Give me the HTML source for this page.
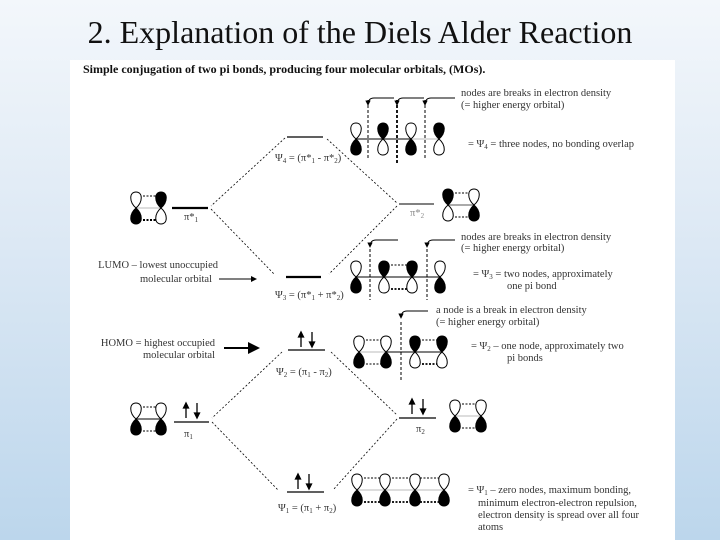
<!DOCTYPE html>
<html><head><meta charset="utf-8"><style>
html,body{margin:0;padding:0}
body{width:720px;height:540px;overflow:hidden;background:linear-gradient(180deg,#f3f7fb 0%,#dfeaf5 40%,#bcd6ec 100%);position:relative;font-family:"Liberation Serif",serif}
.title{position:absolute;left:0;width:720px;top:14px;text-align:center;font-size:32px;color:#111}
.panel{position:absolute;left:70px;top:60px;width:605px;height:480px;background:#fff}
svg{position:absolute;left:0;top:0}
text{font-family:"Liberation Serif",serif;font-size:10.5px;fill:#333}
</style></head><body>
<div class="title">2. Explanation of the Diels Alder Reaction</div>
<div class="panel"></div>
<svg width="720" height="540" viewBox="0 0 720 540">
<defs>
<path id="lobeT" d="M0,0 C-7,-6 -7,-16 0,-16 C7,-16 7,-6 0,0 Z"/>
<path id="lobeB" d="M0,0 C-7,6 -7,16 0,16 C7,16 7,6 0,0 Z"/>
<g id="pA"><use href="#lobeT" fill="#fff" stroke="#000" stroke-width="1"/><use href="#lobeB" fill="#000" stroke="#000" stroke-width="1"/></g>
<g id="pB"><use href="#lobeT" fill="#000" stroke="#000" stroke-width="1"/><use href="#lobeB" fill="#fff" stroke="#000" stroke-width="1"/></g>
<marker id="ah" markerWidth="6" markerHeight="6" refX="5" refY="3" orient="auto"><path d="M0,0 L6,3 L0,6 Z" fill="#000"/></marker>
<g id="ea"><line x1="0" y1="0" x2="0" y2="-13"/><path d="M-2.5,-10 L0,-15 L2.5,-10Z"/><line x1="11" y1="-15" x2="11" y2="-2"/><path d="M8.5,-5 L11,0 L13.5,-5Z"/></g>
</defs>
<text x="83" y="73" style="font-weight:bold;font-size:12px;fill:#111">Simple conjugation of two pi bonds, producing four molecular orbitals, (MOs).</text>

<g stroke="#000" stroke-dasharray="2,2" stroke-width="0.8" fill="none">
<line x1="285" y1="138" x2="211" y2="206"/>
<line x1="211" y1="209" x2="275" y2="275"/>
<line x1="327" y1="139" x2="397" y2="203"/>
<line x1="397" y1="206" x2="329" y2="274"/>
<line x1="282" y1="352" x2="212" y2="418"/>
<line x1="212" y1="422" x2="278" y2="490"/>
<line x1="331" y1="352" x2="397" y2="415"/>
<line x1="397" y1="419" x2="333" y2="490"/>
</g>
<g stroke="#000">
<line x1="287" y1="137" x2="323" y2="137" stroke-width="1.2"/>
<line x1="172" y1="208" x2="208" y2="208" stroke-width="2.2"/>
<line x1="399" y1="204" x2="434" y2="204" stroke-width="1"/>
<line x1="286" y1="277" x2="321" y2="277" stroke-width="2.2"/>
<line x1="288" y1="350" x2="325" y2="350" stroke-width="1.2"/>
<line x1="174" y1="422" x2="209" y2="422" stroke-width="1.2"/>
<line x1="399" y1="418" x2="436" y2="418" stroke-width="1.2"/>
<line x1="287" y1="492" x2="324" y2="492" stroke-width="1.2"/>
</g>
<text x="275" y="161">Ψ<tspan font-size="7" dy="2">4</tspan><tspan dy="-2"> = (π*</tspan><tspan font-size="7" dy="2">1</tspan><tspan dy="-2"> - π*</tspan><tspan font-size="7" dy="2">2</tspan><tspan dy="-2">)</tspan></text>
<text x="184" y="220">π*<tspan font-size="7" dy="2">1</tspan></text>
<text x="410" y="216" style="fill:#888">π*<tspan font-size="7" dy="2">2</tspan></text>
<text x="275" y="298">Ψ<tspan font-size="7" dy="2">3</tspan><tspan dy="-2"> = (π*</tspan><tspan font-size="7" dy="2">1</tspan><tspan dy="-2"> + π*</tspan><tspan font-size="7" dy="2">2</tspan><tspan dy="-2">)</tspan></text>
<text x="276" y="375">Ψ<tspan font-size="7" dy="2">2</tspan><tspan dy="-2"> = (π</tspan><tspan font-size="7" dy="2">1</tspan><tspan dy="-2"> - π</tspan><tspan font-size="7" dy="2">2</tspan><tspan dy="-2">)</tspan></text>
<text x="184" y="437">π<tspan font-size="7" dy="2">1</tspan></text>
<text x="416" y="432">π<tspan font-size="7" dy="2">2</tspan></text>
<text x="278" y="511">Ψ<tspan font-size="7" dy="2">1</tspan><tspan dy="-2"> = (π</tspan><tspan font-size="7" dy="2">1</tspan><tspan dy="-2"> + π</tspan><tspan font-size="7" dy="2">2</tspan><tspan dy="-2">)</tspan></text>

<g stroke="#000" stroke-width="1.3" fill="#000">
<use href="#ea" x="301" y="347"/>
<use href="#ea" x="186" y="418"/>
<use href="#ea" x="412" y="414"/>
<use href="#ea" x="298" y="489"/>
</g>

<text x="218" y="268" text-anchor="end">LUMO – lowest unoccupied</text>
<text x="212" y="282" text-anchor="end">molecular orbital</text>
<line x1="219" y1="279" x2="256" y2="279" stroke="#000" stroke-width="1" marker-end="url(#ah)"/>
<text x="215" y="346" text-anchor="end">HOMO = highest occupied</text>
<text x="215" y="358" text-anchor="end">molecular orbital</text>
<line x1="224" y1="348" x2="258" y2="348" stroke="#000" stroke-width="2" marker-end="url(#ah)"/>

<!-- pi*1 -->
<g stroke="#000" stroke-width="1" stroke-dasharray="2,1.5"><line x1="136" y1="196" x2="161" y2="196"/><line x1="136" y1="220" x2="161" y2="220" stroke-width="2"/></g>
<line x1="136" y1="208" x2="161" y2="208" stroke="#bbb"/>
<use href="#pA" x="136" y="208"/><use href="#pB" x="161" y="208"/>
<!-- pi*2 -->
<g stroke="#000" stroke-width="1" stroke-dasharray="2,1.5"><line x1="448" y1="193" x2="474" y2="193"/><line x1="448" y1="217" x2="474" y2="217"/></g>
<line x1="448" y1="205" x2="474" y2="205" stroke="#555"/>
<use href="#pB" x="448" y="205"/><use href="#pA" x="474" y="205"/>

<!-- Psi4 -->
<line x1="356" y1="139" x2="411" y2="139" stroke="#000"/><line x1="411" y1="139" x2="439" y2="139" stroke="#bbb"/>
<use href="#pA" x="356" y="139"/><use href="#pB" x="383" y="139"/><use href="#pA" x="411" y="139"/><use href="#pB" x="439" y="139"/>
<g stroke="#000" stroke-dasharray="3,2" fill="none"><line x1="368" y1="100" x2="368" y2="160"/><line x1="397" y1="100" x2="397" y2="165" stroke-width="1.8"/><line x1="425" y1="100" x2="425" y2="160"/></g>
<g stroke="#000" fill="none" stroke-width="0.9">
<path d="M394,98 L374,98 Q368,98 368,105" marker-end="url(#ah)"/>
<path d="M424,98 L403,98 Q397,98 397,105" marker-end="url(#ah)"/>
<path d="M455,98 L431,98 Q425,98 425,105" marker-end="url(#ah)"/>
</g>
<text x="461" y="96">nodes are breaks  in electron density</text>
<text x="461" y="108">(= higher energy orbital)</text>
<text x="468" y="147">= Ψ<tspan font-size="7" dy="2">4</tspan><tspan dy="-2"> = three nodes, no bonding overlap</tspan></text>

<!-- Psi3 -->
<line x1="356" y1="277" x2="440" y2="277" stroke="#000"/>
<g stroke="#000" stroke-dasharray="2,1.5"><line x1="384" y1="265" x2="412" y2="265"/><line x1="384" y1="289" x2="412" y2="289" stroke-width="1.8"/></g>
<use href="#pA" x="356" y="277"/><use href="#pB" x="384" y="277"/><use href="#pB" x="412" y="277"/><use href="#pA" x="440" y="277"/>
<g stroke="#000" stroke-dasharray="3,2" fill="none"><line x1="370" y1="244" x2="370" y2="300"/><line x1="427" y1="244" x2="427" y2="300"/></g>
<g stroke="#000" fill="none" stroke-width="0.9">
<path d="M398,240 L376,240 Q370,240 370,247" marker-end="url(#ah)"/>
<path d="M455,240 L433,240 Q427,240 427,247" marker-end="url(#ah)"/>
</g>
<text x="461" y="240">nodes are breaks  in electron density</text>
<text x="461" y="251">(= higher energy orbital)</text>
<text x="473" y="277">= Ψ<tspan font-size="7" dy="2">3</tspan><tspan dy="-2"> = two nodes, approximately</tspan></text>
<text x="507" y="289">one pi bond</text>

<!-- Psi2 -->
<line x1="359" y1="352" x2="386" y2="352" stroke="#bbb"/><line x1="386" y1="352" x2="442" y2="352" stroke="#000"/>
<g stroke="#000" stroke-dasharray="2,1.5"><line x1="359" y1="340" x2="386" y2="340"/><line x1="359" y1="364" x2="386" y2="364"/><line x1="415" y1="340" x2="442" y2="340"/><line x1="415" y1="364" x2="442" y2="364" stroke-width="1.8"/></g>
<use href="#pA" x="359" y="352"/><use href="#pA" x="386" y="352"/><use href="#pB" x="415" y="352"/><use href="#pB" x="442" y="352"/>
<line x1="401" y1="322" x2="401" y2="380" stroke="#000" stroke-dasharray="3,2"/>
<path d="M428,311 L407,311 Q401,311 401,318" stroke="#000" fill="none" stroke-width="0.9" marker-end="url(#ah)"/>
<text x="436" y="313">a node is a break in electron density</text>
<text x="436" y="325">(= higher energy orbital)</text>
<text x="471" y="349">=  Ψ<tspan font-size="7" dy="2">2</tspan><tspan dy="-2"> – one node, approximately two</tspan></text>
<text x="507" y="361">pi bonds</text>

<!-- pi1 -->
<line x1="136" y1="419" x2="161" y2="419" stroke="#000"/>
<g stroke="#000" stroke-dasharray="2,1.5"><line x1="136" y1="407" x2="161" y2="407"/><line x1="136" y1="431" x2="161" y2="431"/></g>
<use href="#pA" x="136" y="419"/><use href="#pA" x="161" y="419"/>
<!-- pi2 -->
<line x1="455" y1="416" x2="481" y2="416" stroke="#bbb"/>
<g stroke="#000" stroke-dasharray="2,1.5"><line x1="455" y1="404" x2="481" y2="404"/><line x1="455" y1="428" x2="481" y2="428"/></g>
<use href="#pA" x="455" y="416"/><use href="#pA" x="481" y="416"/>

<!-- Psi1 -->
<line x1="357" y1="490" x2="444" y2="490" stroke="#bbb"/>
<g stroke="#000" stroke-dasharray="2,1.5"><line x1="357" y1="478" x2="444" y2="478"/><line x1="357" y1="502" x2="444" y2="502" stroke-width="1.8"/></g>
<use href="#pA" x="357" y="490"/><use href="#pA" x="385" y="490"/><use href="#pA" x="415" y="490"/><use href="#pA" x="444" y="490"/>
<text x="468" y="493">=  Ψ<tspan font-size="7" dy="2">1</tspan><tspan dy="-2"> – zero nodes, maximum bonding,</tspan></text>
<text x="478" y="506">minimum electron-electron repulsion,</text>
<text x="478" y="518">electron density is spread over all four</text>
<text x="478" y="530">atoms</text>
</svg>
</body></html>
